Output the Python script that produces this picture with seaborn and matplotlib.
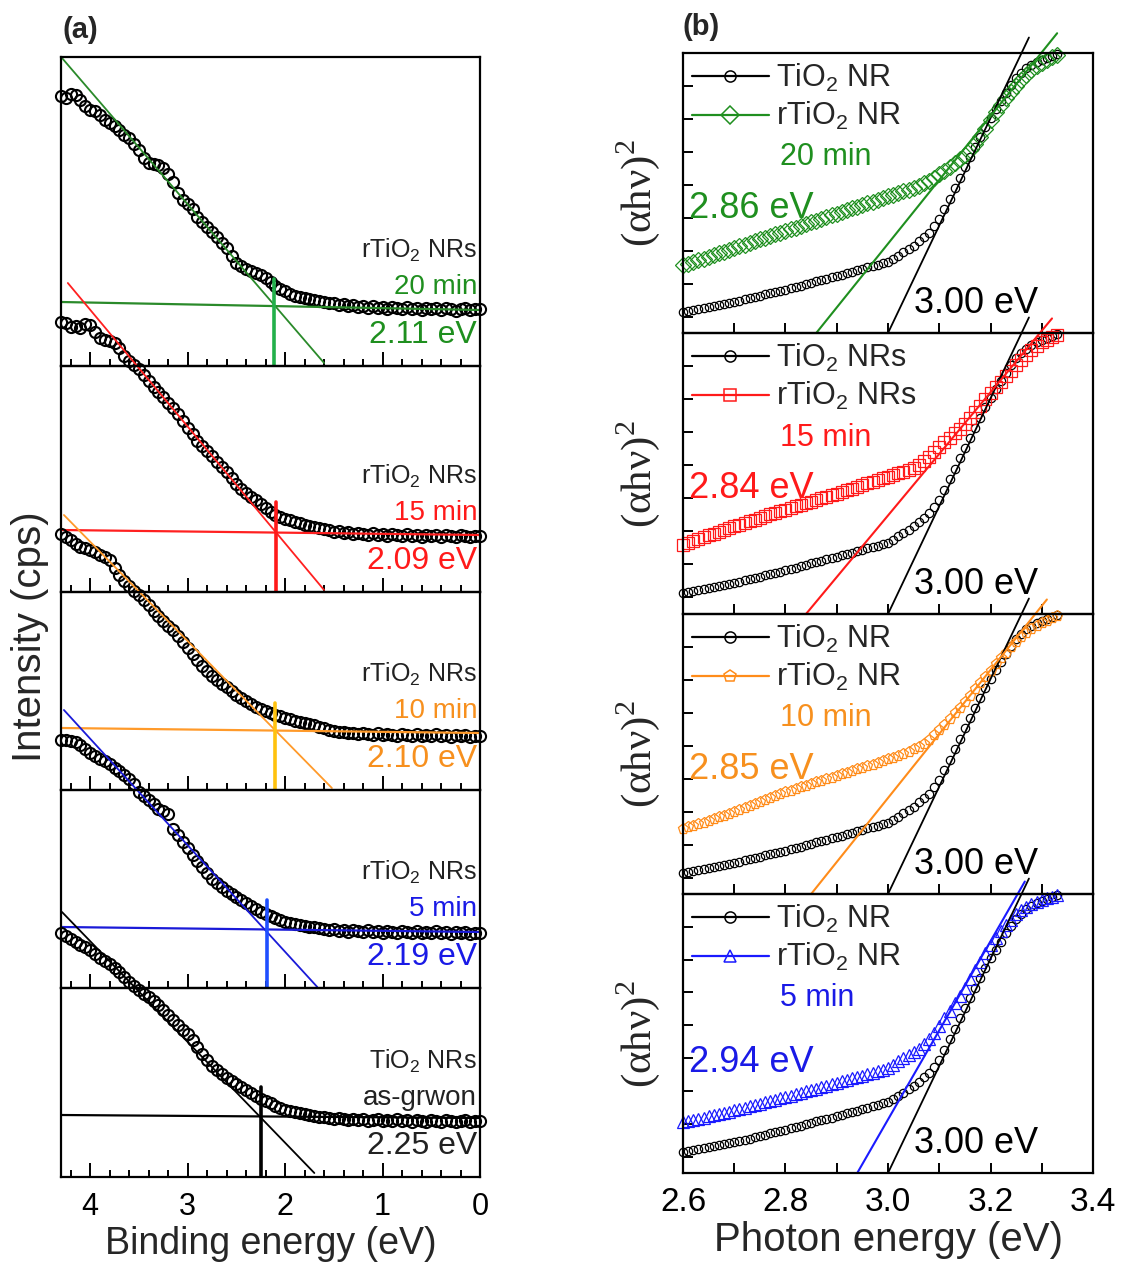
import numpy as np
import matplotlib
matplotlib.use("Agg")
import matplotlib.pyplot as plt
from matplotlib.lines import Line2D
from matplotlib.ticker import MultipleLocator
import seaborn as sns

sns.set_theme(style="ticks")
plt.rcParams['font.family'] = ['Liberation Sans', 'DejaVu Sans']
plt.rcParams['mathtext.fontset'] = 'custom'
plt.rcParams['mathtext.rm'] = 'Liberation Sans'
plt.rcParams['axes.linewidth'] = 1.6

# ---------------- (a) valence band spectra ----------------
E_A = np.round(np.arange(4.30, -0.001, -0.05), 2)

int_20min = [2.70, 2.68, 2.72, 2.71, 2.66, 2.60, 2.56, 2.55, 2.51, 2.46,
             2.43, 2.40, 2.36, 2.31, 2.28, 2.22, 2.16, 2.08, 2.03, 2.02,
             2.01, 1.98, 1.92, 1.84, 1.73, 1.66, 1.62, 1.57, 1.49, 1.44,
             1.39, 1.34, 1.29, 1.23, 1.18, 1.10, 1.03, 1.00, 0.97, 0.95,
             0.93, 0.91, 0.88, 0.84, 0.80, 0.77, 0.75, 0.72, 0.70, 0.69,
             0.68, 0.67, 0.66, 0.65, 0.64, 0.63, 0.63, 0.61, 0.62, 0.60,
             0.61, 0.59, 0.60, 0.58, 0.60, 0.58, 0.59, 0.57, 0.59, 0.58,
             0.57, 0.59, 0.57, 0.58, 0.56, 0.58, 0.57, 0.58, 0.56, 0.58,
             0.57, 0.55, 0.57, 0.58, 0.56, 0.57, 0.57]
int_15min = [2.70, 2.69, 2.65, 2.66, 2.64, 2.68, 2.67, 2.60, 2.54, 2.52,
             2.51, 2.49, 2.44, 2.36, 2.31, 2.27, 2.23, 2.17, 2.11, 2.05,
             2.00, 1.95, 1.89, 1.84, 1.78, 1.71, 1.64, 1.58, 1.51, 1.46,
             1.41, 1.36, 1.30, 1.25, 1.20, 1.14, 1.08, 1.03, 0.99, 0.95,
             0.92, 0.88, 0.84, 0.80, 0.77, 0.75, 0.73, 0.72, 0.70, 0.69,
             0.67, 0.66, 0.65, 0.64, 0.63, 0.62, 0.60, 0.61, 0.59, 0.60,
             0.58, 0.59, 0.58, 0.57, 0.59, 0.57, 0.58, 0.56, 0.58, 0.57,
             0.56, 0.58, 0.56, 0.57, 0.55, 0.57, 0.56, 0.57, 0.55, 0.57,
             0.56, 0.55, 0.57, 0.56, 0.55, 0.56, 0.56]
int_10min = [2.56, 2.53, 2.50, 2.46, 2.43, 2.42, 2.40, 2.38, 2.35, 2.33,
             2.30, 2.22, 2.15, 2.09, 2.04, 1.99, 1.95, 1.90, 1.85, 1.79,
             1.74, 1.69, 1.64, 1.60, 1.54, 1.48, 1.42, 1.36, 1.30, 1.24,
             1.19, 1.14, 1.10, 1.06, 1.03, 0.99, 0.95, 0.92, 0.89, 0.86,
             0.83, 0.81, 0.79, 0.77, 0.75, 0.74, 0.72, 0.71, 0.69, 0.68,
             0.67, 0.66, 0.65, 0.63, 0.62, 0.60, 0.59, 0.58, 0.58, 0.57,
             0.57, 0.56, 0.57, 0.56, 0.55, 0.57, 0.55, 0.56, 0.55, 0.54,
             0.56, 0.55, 0.54, 0.56, 0.54, 0.55, 0.54, 0.56, 0.54, 0.55,
             0.53, 0.55, 0.54, 0.55, 0.53, 0.54, 0.54]
int_5min = [2.48, 2.48, 2.47, 2.46, 2.43, 2.39, 2.35, 2.32, 2.29, 2.27,
            2.24, 2.20, 2.17, 2.13, 2.09, 2.04, 1.96, 1.92, 1.88, 1.84,
            1.79, 1.77, 1.74, 1.59, 1.53, 1.46, 1.40, 1.33, 1.27, 1.21,
            1.15, 1.09, 1.05, 1.01, 0.97, 0.94, 0.91, 0.88, 0.85, 0.82,
            0.79, 0.76, 0.74, 0.72, 0.70, 0.68, 0.66, 0.65, 0.64, 0.63,
            0.62, 0.61, 0.61, 0.60, 0.59, 0.58, 0.59, 0.57, 0.58, 0.56,
            0.58, 0.57, 0.56, 0.58, 0.56, 0.57, 0.55, 0.57, 0.56, 0.55,
            0.57, 0.56, 0.55, 0.57, 0.55, 0.56, 0.55, 0.57, 0.55, 0.56,
            0.54, 0.56, 0.55, 0.56, 0.54, 0.55, 0.55]
int_asgrown = [2.44, 2.41, 2.38, 2.35, 2.32, 2.30, 2.27, 2.23, 2.19, 2.16,
               2.13, 2.09, 2.05, 2.00, 1.95, 1.91, 1.87, 1.83, 1.80, 1.76,
               1.72, 1.67, 1.62, 1.57, 1.52, 1.47, 1.43, 1.37, 1.30, 1.23,
               1.17, 1.11, 1.07, 1.03, 0.99, 0.96, 0.93, 0.90, 0.87, 0.84,
               0.81, 0.78, 0.76, 0.74, 0.71, 0.69, 0.67, 0.66, 0.65, 0.64,
               0.63, 0.62, 0.61, 0.60, 0.60, 0.59, 0.58, 0.59, 0.58, 0.57,
               0.58, 0.57, 0.58, 0.56, 0.57, 0.58, 0.56, 0.57, 0.56, 0.58,
               0.56, 0.57, 0.55, 0.57, 0.56, 0.55, 0.57, 0.56, 0.55, 0.57,
               0.56, 0.55, 0.56, 0.57, 0.55, 0.56, 0.56]

a_names = ["rTiO$_\\mathregular{2}$ NRs"] * 4 + ["TiO$_\\mathregular{2}$ NRs"]
a_times = ["20 min", "15 min", "10 min", "5 min", "as-grwon"]
a_vbm = [2.11, 2.09, 2.10, 2.19, 2.25]
a_series = [int_20min, int_15min, int_10min, int_5min, int_asgrown]
# tangent fit (E1, I1, E2, I2) and baseline fit (I at 4.3 eV, I at 0 eV)
a_fit = [(4.29, 3.08, 1.60, 0.03), (4.23, 3.09, 1.60, 0.02),
         (4.27, 2.75, 1.52, 0.02), (4.27, 2.78, 1.67, 0.01),
         (4.29, 2.65, 1.70, 0.04)]
a_base = [(0.64, 0.56), (0.62, 0.57), (0.62, 0.57), (0.61, 0.56), (0.62, 0.59)]
a_vtop = [0.87, 0.90, 0.87, 0.88, 0.90]

a_fitcol = ["#2a8a2a", "#ff2020", "#ff9a2a", "#1a1ad8", "black"]
a_vcol = ["#22b04a", "#ff1a1a", "#ffc20e", "#1f4fff", "black"]
a_txtcol = ["#1f8f1f", "#ff1a1a", "#f7901e", "#1a1ae6", "#222222"]

# ---------------- (b) Tauc plots ----------------
E_B = np.round(np.arange(2.60, 3.335, 0.01), 2)

tauc_tio2 = [-0.86, -0.83, -0.80, -0.77, -0.74, -0.71, -0.68, -0.65, -0.62, -0.59,
             -0.56, -0.52, -0.48, -0.45, -0.41, -0.37, -0.33, -0.29, -0.26, -0.22,
             -0.18, -0.14, -0.10, -0.06, -0.02, 0.03, 0.07, 0.11, 0.15, 0.19,
             0.23, 0.27, 0.32, 0.36, 0.40, 0.44, 0.49, 0.53, 0.57, 0.62,
             0.66, 0.75, 0.85, 0.95, 1.05, 1.15, 1.28, 1.41, 1.55, 1.74,
             1.95, 2.25, 2.58, 2.90, 3.22, 3.53, 3.83, 4.14, 4.44, 4.75,
             5.04, 5.30, 5.55, 5.80, 6.03, 6.24, 6.40, 6.53, 6.64, 6.73,
             6.80, 6.86, 6.91, 6.96]
tauc_20min = [0.55, 0.60, 0.66, 0.71, 0.76, 0.81, 0.87, 0.92, 0.97, 1.02,
              1.08, 1.13, 1.18, 1.23, 1.29, 1.34, 1.39, 1.44, 1.50, 1.55,
              1.60, 1.65, 1.70, 1.76, 1.81, 1.86, 1.91, 1.96, 2.02, 2.07,
              2.12, 2.17, 2.23, 2.28, 2.33, 2.39, 2.44, 2.49, 2.55, 2.60,
              2.65, 2.70, 2.75, 2.80, 2.85, 2.90, 2.97, 3.04, 3.12, 3.22,
              3.32, 3.42, 3.53, 3.65, 3.77, 3.90, 4.06, 4.24, 4.44, 4.70,
              4.96, 5.20, 5.42, 5.62, 5.82, 6.00, 6.17, 6.33, 6.48, 6.60,
              6.71, 6.80, 6.88, 6.95]
tauc_15min = [0.60, 0.66, 0.71, 0.77, 0.82, 0.88, 0.93, 0.99, 1.04, 1.10,
              1.15, 1.20, 1.25, 1.30, 1.35, 1.40, 1.46, 1.51, 1.56, 1.61,
              1.66, 1.71, 1.76, 1.80, 1.85, 1.90, 1.95, 2.00, 2.04, 2.09,
              2.14, 2.19, 2.24, 2.29, 2.34, 2.39, 2.45, 2.50, 2.55, 2.60,
              2.65, 2.70, 2.75, 2.80, 2.86, 2.92, 3.02, 3.13, 3.25, 3.40,
              3.55, 3.69, 3.82, 3.96, 4.10, 4.25, 4.43, 4.61, 4.80, 4.99,
              5.18, 5.36, 5.53, 5.70, 5.86, 6.02, 6.18, 6.34, 6.50, 6.61,
              6.72, 6.80, 6.88, 6.95]
tauc_10min = [0.47, 0.52, 0.57, 0.62, 0.67, 0.73, 0.78, 0.83, 0.88, 0.93,
              0.98, 1.04, 1.10, 1.16, 1.22, 1.29, 1.35, 1.41, 1.47, 1.53,
              1.59, 1.64, 1.69, 1.74, 1.79, 1.84, 1.89, 1.94, 1.98, 2.03,
              2.08, 2.13, 2.18, 2.23, 2.28, 2.33, 2.38, 2.43, 2.49, 2.54,
              2.59, 2.64, 2.70, 2.76, 2.82, 2.89, 2.97, 3.06, 3.18, 3.32,
              3.47, 3.64, 3.82, 3.99, 4.16, 4.33, 4.52, 4.71, 4.90, 5.09,
              5.28, 5.47, 5.65, 5.83, 6.00, 6.16, 6.30, 6.43, 6.54, 6.64,
              6.73, 6.80, 6.87, 6.93]
tauc_5min = [0.05, 0.09, 0.12, 0.16, 0.19, 0.23, 0.27, 0.30, 0.34, 0.37,
             0.41, 0.45, 0.49, 0.53, 0.57, 0.61, 0.65, 0.69, 0.73, 0.77,
             0.82, 0.86, 0.90, 0.94, 0.99, 1.03, 1.07, 1.12, 1.16, 1.20,
             1.25, 1.29, 1.33, 1.38, 1.42, 1.46, 1.51, 1.55, 1.60, 1.65,
             1.71, 1.79, 1.90, 2.00, 2.09, 2.18, 2.28, 2.42, 2.58, 2.76,
             2.98, 3.21, 3.44, 3.67, 3.90, 4.13, 4.40, 4.67, 4.94, 5.20,
             5.45, 5.67, 5.86, 6.05, 6.22, 6.38, 6.50, 6.60, 6.69, 6.76,
             6.82, 6.87, 6.92, 6.96]

b_series = [tauc_20min, tauc_15min, tauc_10min, tauc_5min]
b_times = ["20 min", "15 min", "10 min", "5 min"]
b_gap = [2.86, 2.84, 2.85, 2.94]
b_gap_tio2 = 3.00
b_suffix = ["NR", "NRs", "NR", "NR"]
b_marker = ["D", "s", "p", "^"]
b_col = ["#1f8f1f", "#ff1a1a", "#ff8c1a", "#1a1aff"]
b_txtcol = ["#1f8f1f", "#ff1a1a", "#f7901e", "#1a1ae6"]
# tangent line end points (E1, y1, E2, y2)
b_fit = [(2.86, -1.5, 3.33, 7.6), (2.84, -1.5, 3.32, 7.44),
         (2.85, -1.5, 3.31, 7.44), (2.94, -1.5, 3.267, 7.38)]
b_fit_tio2 = (3.00, -1.5, 3.275, 7.47)
b_gap_y = [2.29, 2.29, 2.29, 1.86]

W, H = 1131, 1263
fig = plt.figure(figsize=(W / 100, H / 100), dpi=100)

a_edges = [57, 366, 592, 790, 988, 1177]
for i in range(5):
    top, bot = a_edges[i], a_edges[i + 1]
    ax = fig.add_axes([61 / W, 1 - bot / H, 419 / W, (bot - top) / H])
    ax.set_facecolor("none")
    sns.lineplot(x=E_A, y=a_series[i], ax=ax, estimator=None, sort=False,
                 linestyle="none", marker="o", markersize=8,
                 markerfacecolor="none", markeredgecolor="black",
                 markeredgewidth=1.5, clip_on=False, legend=False)
    e1, i1, e2, i2 = a_fit[i]
    ax.plot([e1, e2], [i1, i2], color=a_fitcol[i], lw=1.3, clip_on=False)
    b0, b1 = a_base[i]
    ax.plot([4.3, 0.0], [b0, b1], color=a_fitcol[i], lw=1.6)
    ax.plot([a_vbm[i], a_vbm[i]], [0, a_vtop[i]], color=a_vcol[i], lw=2.6)
    ax.text(0.03, 1.16, a_names[i], ha="right", va="center", fontsize=18,
            color="#222222")
    ax.text(0.03, 0.79, a_times[i], ha="right", va="center", fontsize=20,
            color=a_txtcol[i])
    ax.text(0.03, 0.31, f"{a_vbm[i]:.2f} eV", ha="right", va="center",
            fontsize=23, color=a_txtcol[i])
    ax.set_xlim(4.3, 0)
    ax.set_ylim(0, (bot - top) / 100)
    ax.set_yticks([])
    ax.xaxis.set_major_locator(MultipleLocator(1))
    ax.xaxis.set_minor_locator(MultipleLocator(0.2))
    ax.tick_params(axis="x", which="both", direction="in", top=False,
                   bottom=True, width=1.4, colors="black")
    ax.tick_params(axis="x", which="major", length=10)
    ax.tick_params(axis="x", which="minor", length=5)
    ax.set_ylabel("")
    if i < 4:
        ax.set_xticklabels([])
    else:
        ax.tick_params(axis="x", labelsize=22, pad=11)
        ax.set_xlabel("Binding energy (eV)", fontsize=27, labelpad=3)
    for s in ax.spines.values():
        s.set_color("black")

fig.text(30 / W, 1 - 637 / H, "Intensity (cps)", rotation=90, ha="center",
         va="center", fontsize=29)

b_edges = [53, 333, 614, 894, 1173]
for i in range(4):
    top, bot = b_edges[i], b_edges[i + 1]
    ax = fig.add_axes([683 / W, 1 - bot / H, 410 / W, (bot - top) / H])
    ax.set_facecolor("none")
    sns.lineplot(x=E_B, y=tauc_tio2, ax=ax, estimator=None, sort=False,
                 linestyle="none", marker="o", markersize=6,
                 markerfacecolor="none", markeredgecolor="black",
                 markeredgewidth=0.9, clip_on=False, legend=False)
    sns.lineplot(x=E_B, y=b_series[i], ax=ax, estimator=None, sort=False,
                 linestyle="none", marker=b_marker[i], markersize=8,
                 markerfacecolor="none", markeredgecolor=b_col[i],
                 markeredgewidth=0.9, clip_on=False, legend=False)
    e1, y1, e2, y2 = b_fit_tio2
    ax.plot([e1, e2], [y1, y2], color="black", lw=1.3, clip_on=False)
    e1, y1, e2, y2 = b_fit[i]
    ax.plot([e1, e2], [y1, y2], color=b_col[i], lw=1.5, clip_on=False)

    handles = [Line2D([], [], color="black", lw=1.6, marker="o", ms=8,
                      mfc="none", mec="black", mew=1.1),
               Line2D([], [], color=b_col[i], lw=1.6, marker=b_marker[i],
                      ms=9, mfc="none", mec=b_col[i], mew=1.1)]
    labels = [f"TiO$_\\mathregular{{2}}$ {b_suffix[i]}",
              f"rTiO$_\\mathregular{{2}}$ {b_suffix[i]}"]
    ax.legend(handles, labels, loc="upper left", frameon=False, fontsize=22,
              handlelength=2.5, handletextpad=0.25, labelspacing=0.2,
              borderpad=0.0, borderaxespad=0.3)
    ax.text(2.79, 3.83, b_times[i], ha="left", va="center", fontsize=22,
            color=b_txtcol[i])
    ax.text(2.612, b_gap_y[i], f"{b_gap[i]:.2f} eV", ha="left", va="center",
            fontsize=26, color=b_txtcol[i])
    ax.text(3.05, -0.6, f"{b_gap_tio2:.2f} eV", ha="left", va="center",
            fontsize=26, color="black")

    ax.set_xlim(2.6, 3.4)
    ax.set_ylim(-1.5, 7)
    ax.xaxis.set_major_locator(MultipleLocator(0.2))
    ax.xaxis.set_minor_locator(MultipleLocator(0.1))
    ax.yaxis.set_major_locator(MultipleLocator(1))
    ax.tick_params(axis="both", which="both", direction="in", length=7,
                   width=1.4, top=False, right=False, left=True, bottom=True,
                   colors="black")
    ax.set_yticklabels([])
    ax.set_ylabel("(αhν)$^\\mathregular{2}$", fontsize=31,
                  family=["Liberation Serif", "DejaVu Serif"])
    ax.yaxis.set_label_coords(-0.05, 0.5)
    if i < 3:
        ax.set_xticklabels([])
        ax.set_xlabel("")
    else:
        ax.xaxis.set_major_formatter(matplotlib.ticker.FormatStrFormatter("%.1f"))
        ax.tick_params(axis="x", labelsize=24, pad=10)
        ax.set_xlabel("Photon energy (eV)", fontsize=29, labelpad=2)
    for s in ax.spines.values():
        s.set_color("black")

fig.text(62 / W, 1 - 30 / H, "(a)", fontweight="bold", fontsize=21,
         ha="left", va="center")
fig.text(682 / W, 1 - 27 / H, "(b)", fontweight="bold", fontsize=21,
         ha="left", va="center")

fig.savefig("out.png", dpi=100)
